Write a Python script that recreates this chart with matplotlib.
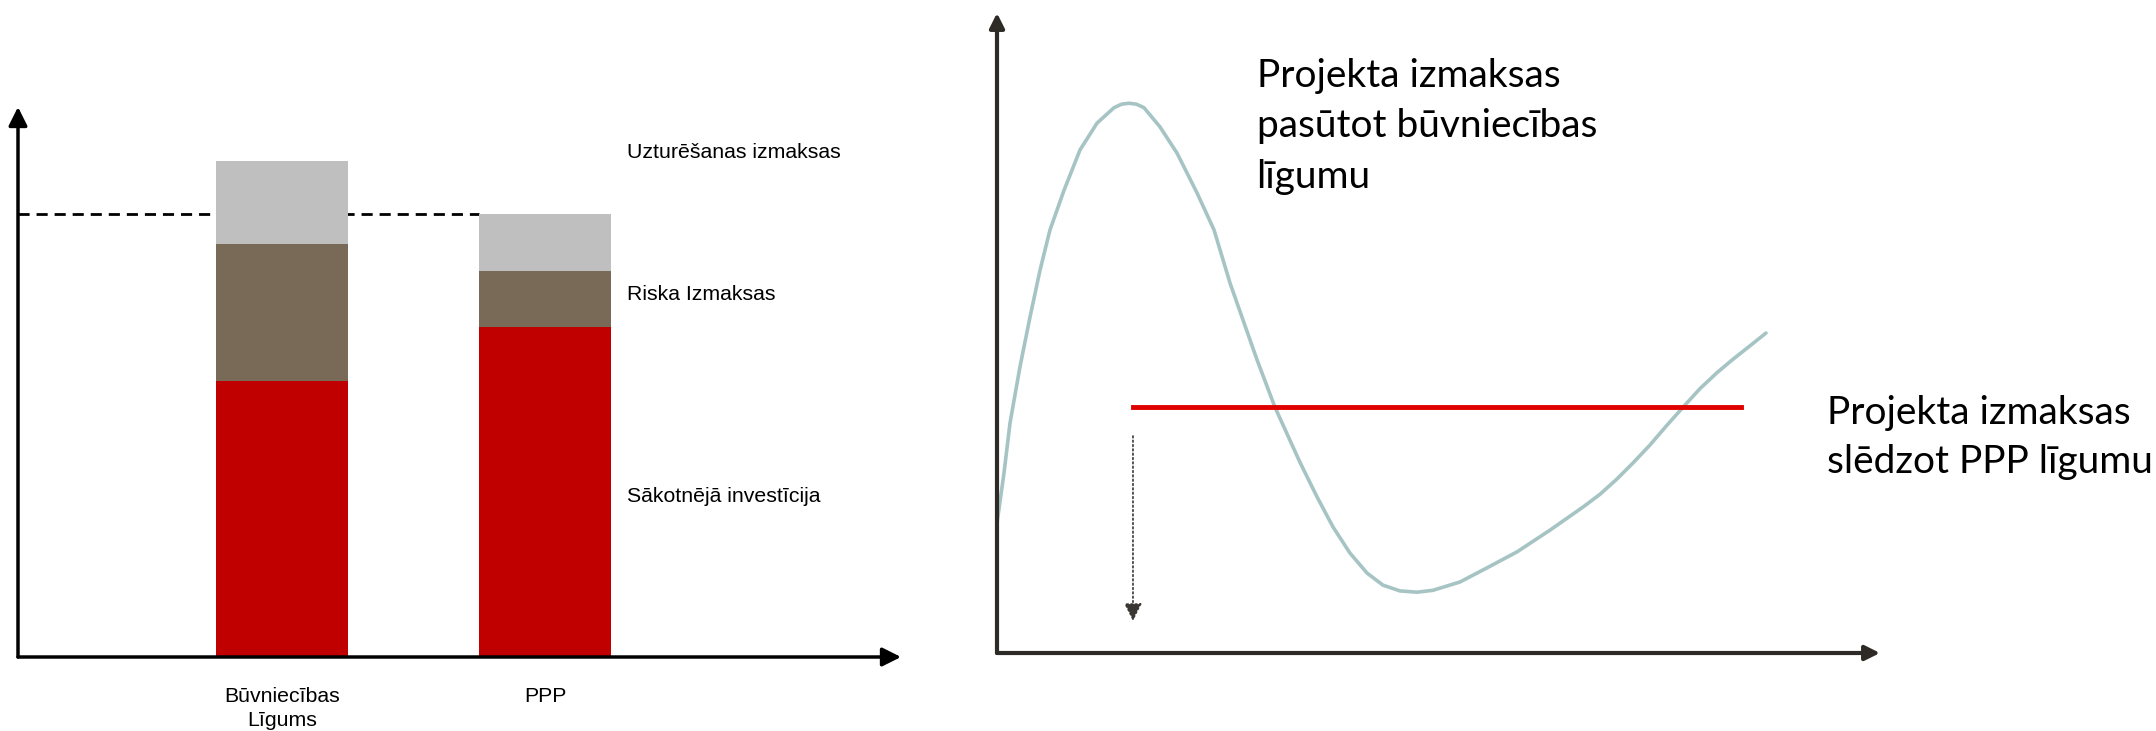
import matplotlib.pyplot as plt

# ------------------------------------------------------------
# data
# ------------------------------------------------------------
categories = ["Būvniecības\nLīgums", "PPP"]
initial_investment = [27.6, 33.0]   # Sākotnējā investīcija
risk_costs = [13.7, 5.6]            # Riska Izmaksas
maintenance_costs = [8.3, 5.7]      # Uzturēšanas izmaksas
segment_labels = ["Sākotnējā investīcija", "Riska Izmaksas", "Uzturēšanas izmaksas"]

# curve "Projekta izmaksas pasūtot būvniecības līgumu"
curve_x = [0.0, 0.79, 1.47, 2.60, 3.74, 4.87, 6.00, 7.59, 9.40, 11.33, 13.25,
           14.1, 14.95, 15.8, 16.65, 18.46, 20.39, 22.65, 24.58, 26.39, 27.97,
           29.45, 31.48, 34.31, 36.24, 38.05, 39.98, 41.90, 43.71, 45.64, 47.57,
           49.38, 52.44, 55.49, 58.89, 62.63, 66.36, 68.29, 70.22, 72.03, 73.95,
           75.88, 77.69, 79.61, 81.54, 83.35, 85.28, 87.09]
curve_y = [20.3, 28.1, 35.9, 44.7, 52.5, 59.8, 66.1, 72.3, 78.6, 82.8, 85.2,
           85.75, 85.9, 85.75, 85.2, 82.2, 78.1, 71.9, 66.1, 57.8, 51.6,
           45.8, 38.4, 29.8, 24.4, 19.7, 15.6, 12.5, 10.6, 9.7, 9.5,
           9.8, 11.1, 13.3, 15.8, 19.2, 22.8, 24.8, 27.2, 29.7, 32.5,
           35.6, 38.4, 41.3, 43.8, 45.9, 48.0, 50.0]
ppp_level = 38.4
ppp_x = [15.4, 84.3]
drop_x = 15.4
drop_y = [33.9, 5.0]

W, H = 2156, 731


def px_rect(x0, y0, x1, y1):
    """pixel box (top-left origin) -> figure fraction rect"""
    return [x0 / W, 1 - y1 / H, (x1 - x0) / W, (y1 - y0) / H]


fig = plt.figure(figsize=(W / 100, H / 100), dpi=100)

# ------------------------------------------------------------
# left: stacked bars
# ------------------------------------------------------------
ax = fig.add_axes(px_rect(18, 107, 901, 657))
ax.set_xlim(-1.004, 2.354)
ax.set_ylim(0, 55)
ax.axis("off")

pos = [0, 1]
bw = 0.5
ax.bar(pos, initial_investment, width=bw, color="#C00000", zorder=3)
ax.bar(pos, risk_costs, width=bw, bottom=initial_investment, color="#786A56", zorder=3)
b2 = [a + b for a, b in zip(initial_investment, risk_costs)]
ax.bar(pos, maintenance_costs, width=bw, bottom=b2, color="#BFBFBF", zorder=3)

ppp_total = b2[1] + maintenance_costs[1]
ax.plot([-1.004, pos[1] - bw / 2], [ppp_total, ppp_total], color="black",
        lw=2, ls=(0, (4, 2.5)), zorder=2, clip_on=False)

for xa, ya in [((0, 0), (0, 1)), ((0, 0), (1, 0))]:
    ax.annotate("", xy=ya, xytext=xa, xycoords="axes fraction",
                arrowprops=dict(arrowstyle="-|>", color="black", lw=2.5,
                                mutation_scale=28, shrinkA=0, shrinkB=0))

lab_font = dict(family=["Liberation Sans", "DejaVu Sans"], fontsize=15.3, color="black")
label_y = [16.1, 36.3, 50.4]
for txt, ly in zip(segment_labels, label_y):
    ax.text(1.312, ly, txt, va="center", ha="left", **lab_font)
for p, c in zip(pos, categories):
    ax.text(p, -3.0, c, ha="center", va="top", linespacing=1.3, **lab_font)

# ------------------------------------------------------------
# right: cost curve
# ------------------------------------------------------------
ax2 = fig.add_axes(px_rect(997, 13, 1880, 653))
ax2.set_xlim(0, 100)
ax2.set_ylim(0, 100)
ax2.axis("off")

ax2.plot(curve_x, curve_y, color="#A6C4C4", lw=2.6, solid_capstyle="round",
         solid_joinstyle="round")
ax2.plot(ppp_x, [ppp_level, ppp_level], color="#E00000", lw=3.5)
ax2.annotate("", xy=(drop_x, drop_y[1]), xytext=(drop_x, drop_y[0]),
             arrowprops=dict(arrowstyle="-|>", color="#3A3632", lw=1.2,
                             ls=(0, (1, 1.6)), mutation_scale=27,
                             shrinkA=0, shrinkB=0))

for xa, ya in [((0, 0), (0, 1)), ((0, 0), (1, 0))]:
    ax2.annotate("", xy=ya, xytext=xa, xycoords="axes fraction",
                 arrowprops=dict(arrowstyle="-|>", color="#2E2B26", lw=3,
                                 mutation_scale=22, shrinkA=0, shrinkB=0))

big_font = dict(family=["Lato", "DejaVu Sans"], fontsize=28, color="black")
ax2.text(29.4, 93.0, "Projekta izmaksas\npasūtot būvniecības\nlīgumu",
         ha="left", va="top", linespacing=1.5, **big_font)
ax2.text(94.0, 40.3, "Projekta izmaksas\nslēdzot PPP līgumu",
         ha="left", va="top", linespacing=1.45, **big_font)

fig.savefig("out.png", dpi=100)
